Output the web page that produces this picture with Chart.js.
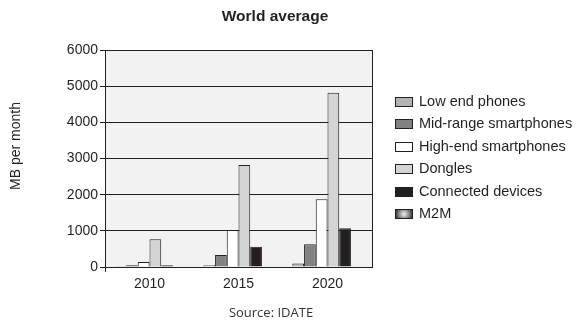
<!DOCTYPE html>
<html>
<head>
<meta charset="utf-8">
<script src="https://cdn.jsdelivr.net/npm/chart.js@4/dist/chart.umd.min.js"></script>
<style>
  html, body { margin: 0; padding: 0; background: #ffffff; }
  #wrap { width: 580px; height: 326px; position: relative; }
</style>
</head>
<body>
<div id="wrap"><canvas id="chart" width="580" height="326"></canvas></div>
<script>
// Monthly mobile data traffic per device type, MB per month
const years = ['2010', '2015', '2020'];
const lowEndPhones = [20, 50, 100];
const midRangeSmartphones = [45, 330, 630];
const highEndSmartphones = [140, 1020, 1870];
const dongles = [770, 2820, 4820];
const connectedDevices = [50, 560, 1070];
const m2m = [0, 0, 0];
const yTicks = [0, 1000, 2000, 3000, 4000, 5000, 6000];

const INK = '#231f20';
const FONT = '"Liberation Sans", Arial, sans-serif';

const seriesStyle = [
  { label: 'Low end phones', data: lowEndPhones, color: '#b3b3b3' },
  { label: 'Mid-range smartphones', data: midRangeSmartphones, color: '#828282' },
  { label: 'High-end smartphones', data: highEndSmartphones, color: '#ffffff' },
  { label: 'Dongles', data: dongles, color: '#d3d4d6' },
  { label: 'Connected devices', data: connectedDevices, color: INK },
  { label: 'M2M', data: m2m, color: '#555555', radial: true }
];

// Plot background, frame, titles and the side legend
const decorations = {
  id: 'decorations',
  beforeDraw(chart) {
    const { ctx, chartArea: a } = chart;
    ctx.save();
    ctx.fillStyle = '#f2f2f2';
    ctx.fillRect(a.left, a.top, a.right - a.left, a.bottom - a.top);
    ctx.restore();
  },
  afterDraw(chart) {
    const { ctx, chartArea: a } = chart;
    ctx.save();
    ctx.strokeStyle = INK;
    ctx.lineWidth = 1;
    ctx.beginPath();
    ctx.moveTo(Math.round(a.right) + 0.5, a.top);
    ctx.lineTo(Math.round(a.right) + 0.5, a.bottom);
    ctx.moveTo(Math.round(a.left) + 0.5, a.bottom);
    ctx.lineTo(Math.round(a.left) + 0.5, a.bottom + 5);
    ctx.stroke();

    // chart title
    ctx.fillStyle = INK;
    ctx.font = 'bold 15.5px ' + FONT;
    ctx.textAlign = 'center';
    ctx.textBaseline = 'middle';
    ctx.fillText('World average', 275, 17);

    // axis title
    ctx.save();
    ctx.translate(16, 146);
    ctx.rotate(-Math.PI / 2);
    ctx.font = '14px ' + FONT;
    ctx.fillText('MB per month', 0, 0);
    ctx.restore();

    // source note
    ctx.font = '13px "Open Sans", sans-serif';
    ctx.fillStyle = '#333333';
    ctx.fillText('Source: IDATE', 271, 313);

    // legend
    const bx = 395, bw = 18, bh = 10, tx = 419;
    chart.data.datasets.forEach((ds, i) => {
      const cy = 101.5 + i * 22.5;
      const y0 = Math.round(cy - bh / 2);
      if (seriesStyle[i].radial) {
        const g = ctx.createRadialGradient(bx + bw / 2, y0 + bh / 2, 0, bx + bw / 2, y0 + bh / 2, bw / 2);
        g.addColorStop(0, '#f0f0f0');
        g.addColorStop(0.55, '#8a8a8a');
        g.addColorStop(1, '#2e2e2e');
        ctx.fillStyle = g;
      } else {
        ctx.fillStyle = ds.backgroundColor;
      }
      ctx.fillRect(bx, y0, bw, bh);
      ctx.strokeStyle = INK;
      ctx.strokeRect(bx + 0.5, y0 + 0.5, bw - 1, bh - 1);
      ctx.fillStyle = INK;
      ctx.font = '14.5px ' + FONT;
      ctx.textAlign = 'left';
      ctx.textBaseline = 'middle';
      ctx.fillText(ds.label, tx, cy);
    });
    ctx.restore();
  }
};

new Chart(document.getElementById('chart'), {
  type: 'bar',
  data: {
    labels: years,
    datasets: seriesStyle.map(s => ({
      label: s.label,
      data: s.data,
      backgroundColor: s.radial ? '#3a3a3a' : s.color,
      borderColor: INK,
      borderWidth: 1,
      borderSkipped: 'start',
      categoryPercentage: 0.79,
      barPercentage: 1.0
    }))
  },
  options: {
    responsive: false,
    animation: false,
    devicePixelRatio: 1,
    layout: { padding: { left: 0, right: 208, top: 50, bottom: 31 } },
    plugins: {
      legend: { display: false },
      title: { display: false },
      tooltip: { enabled: false }
    },
    scales: {
      x: {
        grid: { display: false, drawTicks: false },
        border: { display: true, color: INK, width: 1 },
        ticks: { color: INK, font: { family: FONT, size: 14 }, padding: 9 },
        afterFit(scale) { scale.height = 28; }
      },
      y: {
        min: 0,
        max: 6000,
        afterBuildTicks(scale) { scale.ticks = yTicks.map(v => ({ value: v })); },
        grid: { color: INK, lineWidth: 1, tickLength: 5, tickColor: INK, drawTicks: true },
        border: { display: true, color: INK, width: 1 },
        ticks: {
          color: INK,
          font: { family: FONT, size: 14 },
          padding: 2,
          callback: v => String(v)
        },
        afterFit(scale) { scale.width = 105; }
      }
    }
  },
  plugins: [decorations]
});
</script>
</body>
</html>
